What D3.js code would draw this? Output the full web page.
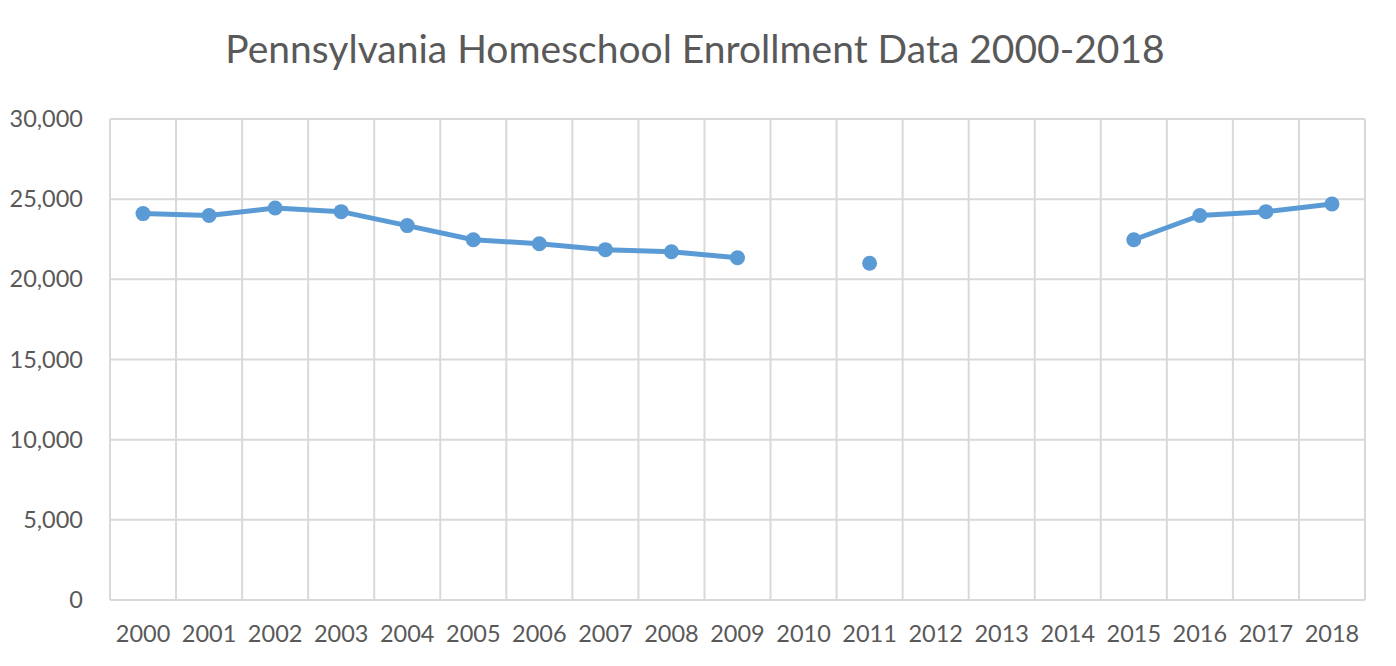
<!DOCTYPE html>
<html>
<head>
<meta charset="utf-8">
<script src="https://cdn.jsdelivr.net/npm/d3@7"></script>
<style>
  body { margin: 0; background: #fff; }
  text { font-family: Lato, "Open Sans", sans-serif; fill: #595959; }
</style>
</head>
<body>
<svg id="drawing_region"></svg>
<script>
// years on the x axis
const years = ['2000', '2001', '2002', '2003', '2004', '2005', '2006', '2007', '2008', '2009',
    '2010', '2011', '2012', '2013', '2014', '2015', '2016', '2017', '2018'];
// enrollment, null where no data
const enrollment = [24100, 23980, 24450, 24220, 23350, 22470, 22220, 21850, 21720, 21350,
    null, 21000, null, null, null, 22470, 23980, 24220, 24700];
const yTicks = [0, 5000, 10000, 15000, 20000, 25000, 30000];
const title = 'Pennsylvania Homeschool Enrollment Data 2000-2018';

const config = {
    width: 1396,
    height: 666,
    margin: { top: 119, right: 31, bottom: 66, left: 110 }
};

const data = years.map((y, i) => ({ year: y, value: enrollment[i] }));

const svg = d3.select('#drawing_region')
    .attr('width', config.width)
    .attr('height', config.height);

const inner_width = config.width - config.margin.left - config.margin.right;
const inner_height = config.height - config.margin.top - config.margin.bottom;

const chart = svg.append('g')
    .attr('transform', `translate(${config.margin.left}, ${config.margin.top})`);

const xscale = d3.scaleBand()
    .domain(years)
    .range([0, inner_width]);

const yscale = d3.scaleLinear()
    .domain([0, 30000])
    .range([inner_height, 0]);

// horizontal gridlines
chart.append('g')
    .selectAll('line')
    .data(yTicks)
    .join('line')
    .attr('x1', 0)
    .attr('x2', inner_width)
    .attr('y1', d => yscale(d))
    .attr('y2', d => yscale(d))
    .attr('stroke', '#d9d9d9')
    .attr('stroke-width', 2);

// vertical gridlines at category boundaries
chart.append('g')
    .selectAll('line')
    .data(years.concat(['end']))
    .join('line')
    .attr('x1', (d, i) => i * xscale.step())
    .attr('x2', (d, i) => i * xscale.step())
    .attr('y1', 0)
    .attr('y2', inner_height)
    .attr('stroke', '#d9d9d9')
    .attr('stroke-width', 2);

// y axis labels
const yaxis = d3.axisLeft(yscale)
    .tickValues(yTicks)
    .tickFormat(d3.format(','))
    .tickSize(0)
    .tickPadding(27);

chart.append('g')
    .call(yaxis)
    .call(g => g.select('.domain').remove())
    .selectAll('text')
    .style('font-size', '23.5px');

// x axis labels
const xaxis = d3.axisBottom(xscale)
    .tickSize(0)
    .tickPadding(25);

chart.append('g')
    .attr('transform', `translate(0, ${inner_height})`)
    .call(xaxis)
    .call(g => g.select('.domain').remove())
    .selectAll('text')
    .style('font-size', '23.5px');

// line (breaks at missing years)
const line = d3.line()
    .defined(d => d.value !== null)
    .x(d => xscale(d.year) + xscale.bandwidth() / 2)
    .y(d => yscale(d.value));

chart.append('path')
    .datum(data)
    .attr('fill', 'none')
    .attr('stroke', '#5b9bd5')
    .attr('stroke-width', 5)
    .attr('stroke-linejoin', 'round')
    .attr('d', line);

chart.selectAll('circle')
    .data(data.filter(d => d.value !== null))
    .join('circle')
    .attr('cx', d => xscale(d.year) + xscale.bandwidth() / 2)
    .attr('cy', d => yscale(d.value))
    .attr('r', 7.5)
    .attr('fill', '#5b9bd5');

// title
svg.append('text')
    .attr('x', config.width / 2 - 3)
    .attr('y', 63)
    .attr('text-anchor', 'middle')
    .style('font-size', '39px')
    .text(title);
</script>
</body>
</html>
